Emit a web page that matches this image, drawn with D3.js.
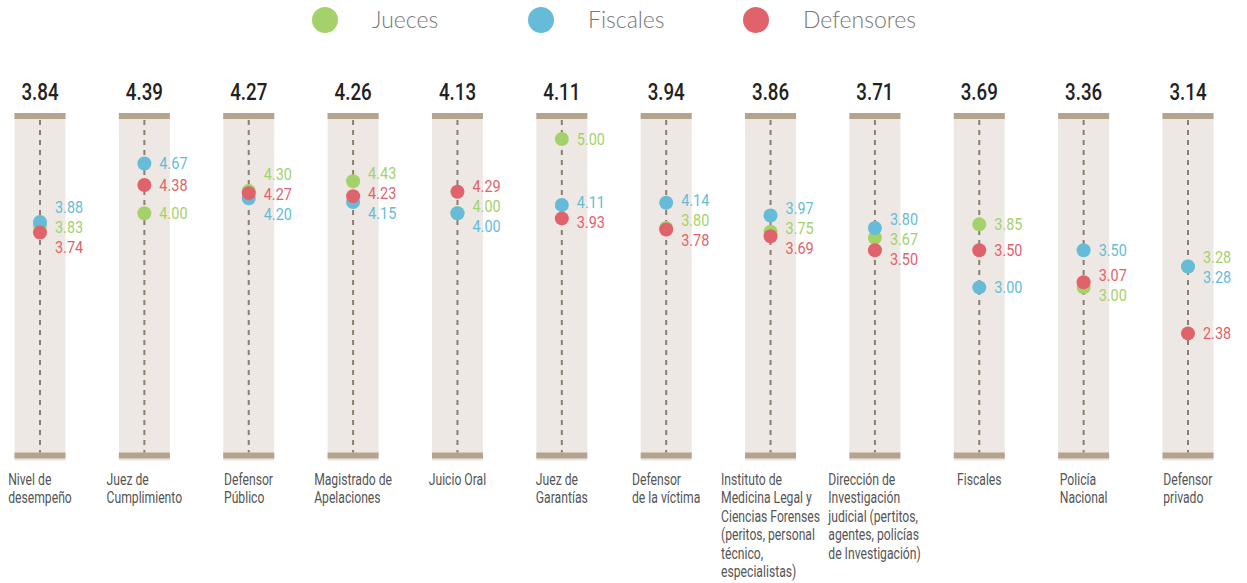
<!DOCTYPE html>
<html>
<head>
<meta charset="utf-8">
<script src="https://cdn.jsdelivr.net/npm/d3@7"></script>
<style>
  body { margin: 0; background: #fff; }
  svg text { font-family: Roboto, "Liberation Sans", sans-serif; }
</style>
</head>
<body>
<div id="chart"></div>
<script>
// datos
var categorias = ["Nivel de desempeño", "Juez de Cumplimiento", "Defensor Público", "Magistrado de Apelaciones",
  "Juicio Oral", "Juez de Garantías", "Defensor de la víctima", "Instituto de Medicina Legal",
  "Dirección de Investigación", "Fiscales", "Policía Nacional", "Defensor privado"];
var etiquetas = [
  ["Nivel de", "desempeño"],
  ["Juez de", "Cumplimiento"],
  ["Defensor", "Público"],
  ["Magistrado de", "Apelaciones"],
  ["Juicio Oral"],
  ["Juez de", "Garantías"],
  ["Defensor", "de la víctima"],
  ["Instituto de", "Medicina Legal y", "Ciencias Forenses", "(peritos, personal", "técnico,", "especialistas)"],
  ["Dirección de", "Investigación", "judicial (pertitos,", "agentes, policías", "de Investigación)"],
  ["Fiscales"],
  ["Policía", "Nacional"],
  ["Defensor", "privado"]
];
var promedio   = [3.84, 4.39, 4.27, 4.26, 4.13, 4.11, 3.94, 3.86, 3.71, 3.69, 3.36, 3.14];
var jueces     = [3.83, 4.00, 4.30, 4.43, 4.00, 5.00, 3.80, 3.75, 3.67, 3.85, 3.00, 3.28];
var fiscales   = [3.88, 4.67, 4.20, 4.15, 4.00, 4.11, 4.14, 3.97, 3.80, 3.00, 3.50, 3.28];
var defensores = [3.74, 4.38, 4.27, 4.23, 4.29, 3.93, 3.78, 3.69, 3.50, 3.50, 3.07, 2.38];

var series = [
  {name: "Jueces", values: jueces, color: "#a5d16b"},
  {name: "Fiscales", values: fiscales, color: "#66bcd8"},
  {name: "Defensores", values: defensores, color: "#e0636b"}
];

var W = 1247, H = 583;
var svg = d3.select("#chart").append("svg").attr("width", W).attr("height", H);

var x = d3.scalePoint().domain(categorias).range([40, 1188]);
var y = d3.scaleLinear().domain([1, 5]).range([435.8, 139]);

var barW = 51, barTop = 113, barBot = 458.5, capH = 6;

// leyenda
var legX = [325, 541, 756];
var leg = svg.selectAll(".leg").data(series).enter().append("g")
  .attr("transform", (d, i) => "translate(" + legX[i] + ",20)");
leg.append("circle").attr("r", 13).attr("fill", d => d.color);
leg.append("text").attr("x", 47).attr("y", 8)
  .style("font-family", "Lato, 'Open Sans', sans-serif").style("font-weight", 300)
  .style("font-size", "23px").attr("fill", "#777").text(d => d.name);

// columnas
var col = svg.selectAll(".col").data(categorias).enter().append("g")
  .attr("transform", d => "translate(" + x(d) + ",0)");

col.append("rect").attr("x", -barW / 2).attr("y", barTop).attr("width", barW)
  .attr("height", barBot - barTop).attr("fill", "#ede8e3");
col.append("rect").attr("x", -barW / 2).attr("y", barBot).attr("width", barW)
  .attr("height", 2).attr("fill", "#e9e6e2");
col.append("rect").attr("x", -barW / 2).attr("y", barTop).attr("width", barW)
  .attr("height", capH).attr("fill", "#b5a48d");
col.append("rect").attr("x", -barW / 2).attr("y", barBot - capH).attr("width", barW)
  .attr("height", capH).attr("fill", "#b5a48d");
col.append("line").attr("x1", 0).attr("x2", 0).attr("y1", barTop + capH + 1).attr("y2", barBot - capH)
  .attr("stroke", "#8a7f70").attr("stroke-width", 2).attr("stroke-dasharray", "5,5");

// promedio arriba
col.append("g").attr("transform", "translate(0,100) scale(0.78,1)")
  .append("text").attr("text-anchor", "middle")
  .style("font-size", "24px").style("font-weight", 500).attr("fill", "#222")
  .text((d, i) => promedio[i].toFixed(2));

// puntos
series.forEach(function(s) {
  col.append("circle").attr("r", 7)
    .attr("cy", (d, i) => y(s.values[i]))
    .attr("fill", s.color);
});

// etiquetas de valores, separadas para no encimarse
var gap = 20;
categorias.forEach(function(c, i) {
  var labs = series.map(s => ({v: s.values[i], color: s.color, y: y(s.values[i])}));
  labs.sort((a, b) => b.v - a.v);
  for (var it = 0; it < 60; it++) {
    for (var k = 0; k < labs.length - 1; k++) {
      var over = gap - (labs[k + 1].y - labs[k].y);
      if (over > 0) { labs[k].y -= over / 2; labs[k + 1].y += over / 2; }
    }
  }
  svg.selectAll(null).data(labs).enter().append("g")
    .attr("transform", d => "translate(" + (x(c) + 15) + "," + (d.y + 6) + ") scale(0.85,1)")
    .append("text")
    .style("font-size", "17px").attr("fill", d => d.color)
    .text(d => d.v.toFixed(2));
});

// nombres de categorías
col.each(function(d, i) {
  var g = d3.select(this).append("g");
  var t = g.append("text").style("font-size", "16px").attr("fill", "#555");
  t.selectAll("tspan").data(etiquetas[i]).enter().append("tspan")
    .attr("x", 0).attr("y", (l, j) => 485 + j * 18.4).text(l => l);
  var w = t.node().getBBox().width * 0.76;
  g.attr("transform", "translate(" + (-w / 2) + ",0) scale(0.76,1)");
});
</script>
</body>
</html>
